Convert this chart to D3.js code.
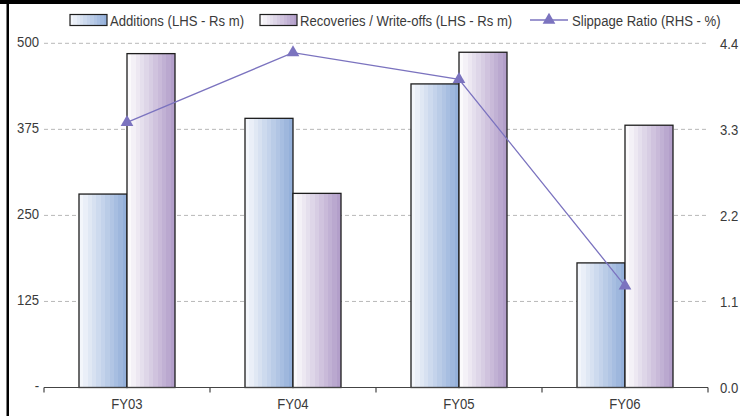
<!DOCTYPE html>
<html>
<head>
<meta charset="utf-8">
<script src="https://cdn.jsdelivr.net/npm/d3@7/dist/d3.min.js"></script>
<style>
  html, body { margin: 0; padding: 0; background: #fff; }
  svg { display: block; }
  text { font-family: "Liberation Sans", Arial, sans-serif; fill: #3a3a3a; }
</style>
</head>
<body>
<svg id="chart" width="740" height="416"></svg>
<script>
// Fiscal years on the category axis
const categories = ["FY03", "FY04", "FY05", "FY06"];
// Left-hand series, Rs m
const additions = [281, 391, 441, 181];
const recoveries = [485, 282, 487, 381];
// Right-hand series, %
const slippage = [3.39, 4.28, 3.94, 1.30];
// Axis tick values
const leftTicks = [0, 125, 250, 375, 500];
const rightTicks = [0, 1.1, 2.2, 3.3, 4.4];
const seriesNames = ["Additions (LHS - Rs m)", "Recoveries / Write-offs (LHS - Rs m)", "Slippage Ratio (RHS - %)"];

const svg = d3.select("#chart");
const W = 740, H = 416;
const plot = { left: 44, right: 708, top: 43.3, bottom: 387.5 };
const FONT = "'Liberation Sans', Arial, sans-serif";
const FS = 15;
const NARROW = 0.875;

// Condense text horizontally (narrow face look)
function narrow(sel) {
  sel.each(function () {
    const t = d3.select(this);
    const xv = +(t.attr("x") || 0);
    t.attr("x", xv / NARROW).attr("transform", `scale(${NARROW},1)`)
      .attr("font-size", FS).style("font-family", FONT).attr("fill", "#3a3a3a");
  });
}

// Stepped horizontal gradients giving the striped bar fill
const defs = svg.append("defs");
function stripes(id, from, to, n) {
  const g = defs.append("linearGradient").attr("id", id)
    .attr("x1", "0%").attr("x2", "100%").attr("y1", "0%").attr("y2", "0%");
  const c = d3.interpolateRgb(from, to);
  for (let i = 0; i < n; i++) {
    const col = c(i / (n - 1));
    g.append("stop").attr("offset", (i / n * 100) + "%").attr("stop-color", col);
    g.append("stop").attr("offset", ((i + 1) / n * 100) + "%").attr("stop-color", col);
  }
}
stripes("gradAdd", "#f3f6fb", "#94b0da", 11);
stripes("gradRec", "#fbfafc", "#b39fca", 11);

const x = d3.scaleBand().domain(categories).range([plot.left, plot.right]).paddingInner(0.4217).paddingOuter(0.21085);
const sub = d3.scaleBand().domain(["add", "rec"]).range([0, x.bandwidth()]);
const yL = d3.scaleLinear().domain([0, 500]).range([plot.bottom, plot.top]);
const yR = d3.scaleLinear().domain([0, 4.4]).range([plot.bottom, plot.top]);

// Frame edges (top and left)
svg.append("rect").attr("x", 0).attr("y", 0).attr("width", W).attr("height", 4).attr("fill", "#000");
svg.append("rect").attr("x", 6.5).attr("y", 0).attr("width", 2.5).attr("height", H).attr("fill", "#000");

// Dashed gridlines
svg.append("g").selectAll("line").data(leftTicks.filter(d => d > 0)).join("line")
  .attr("x1", plot.left).attr("x2", plot.right)
  .attr("y1", d => yL(d)).attr("y2", d => yL(d))
  .attr("stroke", "#b8b8b8").attr("stroke-width", 1).attr("stroke-dasharray", "4,3");

// Left axis labels
const leftAxis = d3.axisLeft(yL).tickValues(leftTicks).tickSize(0).tickPadding(5)
  .tickFormat(d => d === 0 ? "-" : d3.format("d")(d));
const gL = svg.append("g").attr("transform", `translate(${plot.left},0)`).call(leftAxis);
gL.select(".domain").remove();
gL.selectAll("text").attr("dy", "0.2em").call(narrow);

// Right axis labels
const rightAxis = d3.axisRight(yR).tickValues(rightTicks).tickSize(0).tickPadding(12)
  .tickFormat(d3.format(".1f"));
const gR = svg.append("g").attr("transform", `translate(${plot.right},0)`).call(rightAxis);
gR.select(".domain").remove();
gR.selectAll("text").attr("dy", "0.35em").call(narrow);

// Bars
const rows = categories.map((c, i) => ({ c, add: additions[i], rec: recoveries[i] }));
const groups = svg.append("g").selectAll("g").data(rows).join("g")
  .attr("transform", d => `translate(${x(d.c)},0)`);
groups.selectAll("rect").data(d => [{ k: "add", v: d.add }, { k: "rec", v: d.rec }]).join("rect")
  .attr("x", d => sub(d.k)).attr("width", sub.bandwidth())
  .attr("y", d => yL(d.v)).attr("height", d => yL(0) - yL(d.v))
  .attr("fill", d => d.k === "add" ? "url(#gradAdd)" : "url(#gradRec)")
  .attr("stroke", "#1e1e1e").attr("stroke-width", 1.3);

// Category axis with ticks at the band boundaries
svg.append("line").attr("x1", plot.left).attr("x2", plot.right)
  .attr("y1", plot.bottom).attr("y2", plot.bottom).attr("stroke", "#444").attr("stroke-width", 1.2);
const bounds = categories.map(c => x(c) - x.step() * x.paddingInner() / 2).concat([plot.right]);
svg.append("g").selectAll("line").data(bounds).join("line")
  .attr("x1", d => d).attr("x2", d => d).attr("y1", plot.bottom).attr("y2", plot.bottom + 5)
  .attr("stroke", "#444").attr("stroke-width", 1.2);
svg.append("g").selectAll("text").data(categories).join("text")
  .attr("x", d => x(d) + x.bandwidth() / 2).attr("y", plot.bottom + 22)
  .attr("text-anchor", "middle").text(d => d).call(narrow);

// Slippage ratio line with triangle markers
const lineColor = "#7b73bf";
const pts = categories.map((c, i) => [x(c) + x.bandwidth() / 2, yR(slippage[i])]);
svg.append("path").datum(pts).attr("d", d3.line())
  .attr("fill", "none").attr("stroke", lineColor).attr("stroke-width", 1.3);
const tri = d3.symbol().type(d3.symbolTriangle).size(70);
svg.append("g").selectAll("path").data(pts).join("path")
  .attr("transform", d => `translate(${d[0]},${d[1]})`).attr("d", tri).attr("fill", lineColor);

// Legend
const leg = svg.append("g");
const sw = [{ x: 70, g: "url(#gradAdd)", tx: 110 }, { x: 260, g: "url(#gradRec)", tx: 300 }];
sw.forEach((s, i) => {
  leg.append("rect").attr("x", s.x).attr("y", 14.5).attr("width", 37).attr("height", 11)
    .attr("fill", s.g).attr("stroke", "#1e1e1e").attr("stroke-width", 1.2);
  leg.append("text").attr("x", s.tx).attr("y", 26).text(seriesNames[i]).call(narrow);
});
leg.append("line").attr("x1", 530).attr("x2", 568).attr("y1", 20).attr("y2", 20)
  .attr("stroke", lineColor).attr("stroke-width", 1.3);
leg.append("path").attr("transform", "translate(549,20)").attr("d", tri).attr("fill", lineColor);
leg.append("text").attr("x", 572).attr("y", 26).text(seriesNames[2]).call(narrow);
</script>
</body>
</html>
